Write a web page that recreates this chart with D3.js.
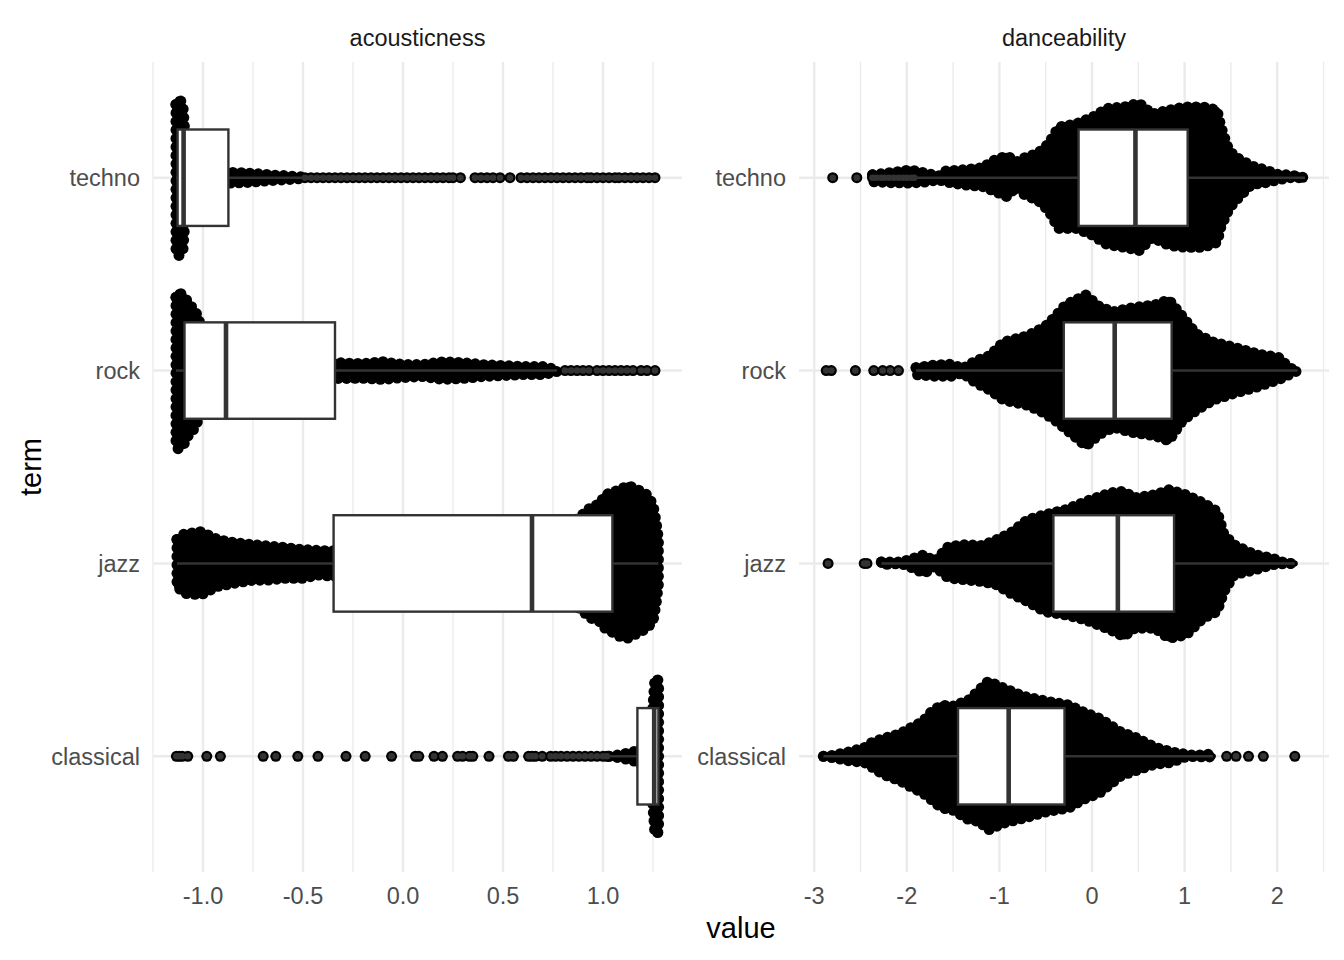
<!DOCTYPE html>
<html><head><meta charset="utf-8">
<script src="https://cdn.jsdelivr.net/npm/d3@7"></script>
<style>body{margin:0;background:#fff}svg{display:block}text{font-family:"Liberation Sans",Arial,Helvetica,sans-serif}</style>
</head><body><svg id="chart" width="1344" height="960"></svg>
<script>
// ---------- data ----------
const categories = ["techno", "rock", "jazz", "classical"];
const facets = ["acousticness", "danceability"];
const acTicks = [-1.0, -0.5, 0.0, 0.5, 1.0];
const acTickLabels = ["-1.0", "-0.5", "0.0", "0.5", "1.0"];
const acMinorTicks = [-1.25, -0.75, -0.25, 0.25, 0.75, 1.25];
const daTicks = [-3, -2, -1, 0, 1, 2];
const daTickLabels = ["-3", "-2", "-1", "0", "1", "2"];
const daMinorTicks = [-2.5, -1.5, -0.5, 0.5, 1.5, 2.5];

// boxplot statistics, order = categories
const acWhiskerLow = [-1.135, -1.135, -1.13, 1.03];
const acQ1 = [-1.127, -1.0925, -0.347, 1.172];
const acMedian = [-1.097, -0.885, 0.645, 1.256];
const acQ3 = [-0.873, -0.34, 1.047, 1.277];
const acWhiskerHigh = [-0.50, 0.77, 1.277, 1.282];
const daWhiskerLow = [-1.89, -1.90, -2.275, -2.90];
const daQ1 = [-0.145, -0.305, -0.417, -1.447];
const daMedian = [0.469, 0.245, 0.279, -0.90];
const daQ3 = [1.033, 0.86, 0.886, -0.297];
const daWhiskerHigh = [2.30, 2.22, 2.19, 1.305];

// beeswarm spread envelopes (value, spread above, spread below in category units)
const acTechnoX = [-1.135, -1.125, -1.112, -1.10, -1.09, -1.05, -0.95, -0.873, -0.80, -0.72, -0.65, -0.58, -0.50];
const acTechnoUp = [0.38, 0.405, 0.40, 0.37, 0.22, 0.10, 0.05, 0.028, 0.026, 0.020, 0.014, 0.010, 0.004];
const acTechnoLo = [0.38, 0.405, 0.40, 0.37, 0.22, 0.10, 0.05, 0.028, 0.026, 0.020, 0.014, 0.010, 0.004];
const acRockX = [-1.135, -1.125, -1.112, -1.10, -1.085, -1.07, -1.05, -1.035, -1.02, -1.0, -0.9, -0.6, -0.34, -0.2, -0.1, 0.0, 0.1, 0.2, 0.3, 0.4, 0.5, 0.6, 0.7, 0.77];
const acRockUp = [0.38, 0.405, 0.40, 0.39, 0.37, 0.35, 0.32, 0.30, 0.27, 0.10, 0.08, 0.05, 0.041, 0.036, 0.046, 0.031, 0.031, 0.046, 0.041, 0.031, 0.026, 0.021, 0.021, 0.005];
const acRockLo = [0.38, 0.405, 0.40, 0.39, 0.36, 0.33, 0.31, 0.28, 0.25, 0.10, 0.08, 0.05, 0.041, 0.040, 0.046, 0.036, 0.031, 0.046, 0.041, 0.031, 0.026, 0.021, 0.021, 0.005];
const acJazzX = [-1.13, -1.095, -1.011, -0.927, -0.843, -0.758, -0.673, -0.589, -0.505, -0.42, -0.352, -0.1, 0.3, 0.7, 0.85, 0.88, 0.94, 0.985, 1.01, 1.085, 1.125, 1.175, 1.22, 1.25, 1.265, 1.277];
const acJazzUp = [0.124, 0.152, 0.165, 0.124, 0.108, 0.098, 0.090, 0.083, 0.072, 0.067, 0.065, 0.09, 0.15, 0.20, 0.22, 0.237, 0.292, 0.31, 0.356, 0.382, 0.405, 0.382, 0.356, 0.305, 0.217, 0.13];
const acJazzLo = [0.119, 0.155, 0.163, 0.119, 0.103, 0.088, 0.086, 0.077, 0.077, 0.060, 0.067, 0.09, 0.15, 0.20, 0.22, 0.232, 0.284, 0.302, 0.336, 0.379, 0.387, 0.361, 0.336, 0.30, 0.212, 0.108];
const acClassicalX = [1.03, 1.085, 1.17, 1.20, 1.24, 1.258, 1.265, 1.272, 1.278];
const acClassicalUp = [0, 0.008, 0.028, 0.05, 0.12, 0.38, 0.405, 0.405, 0.38];
const acClassicalLo = [0, 0.008, 0.028, 0.05, 0.12, 0.38, 0.405, 0.405, 0.38];

const daTechnoX = [-2.37, -2.15, -1.96, -1.77, -1.66, -1.59, -1.40, -1.18, -1.07, -0.92, -0.81, -0.73, -0.58, -0.47, -0.36, -0.17, 0.01, 0.16, 0.35, 0.51, 0.65, 0.83, 1.01, 1.20, 1.35, 1.39, 1.46, 1.53, 1.72, 1.87, 2.02, 2.13, 2.30];
const daTechnoUp = [0.015, 0.028, 0.041, 0.021, 0.008, 0.034, 0.041, 0.052, 0.088, 0.114, 0.083, 0.103, 0.129, 0.176, 0.263, 0.279, 0.315, 0.359, 0.367, 0.387, 0.330, 0.351, 0.367, 0.367, 0.351, 0.268, 0.165, 0.114, 0.062, 0.041, 0.015, 0.015, 0];
const daTechnoLo = [0.021, 0.026, 0.028, 0.021, 0.010, 0.021, 0.036, 0.046, 0.067, 0.098, 0.046, 0.088, 0.119, 0.170, 0.263, 0.263, 0.299, 0.346, 0.361, 0.377, 0.310, 0.351, 0.361, 0.361, 0.336, 0.258, 0.181, 0.129, 0.036, 0.026, 0.010, 0, 0];
const daRockX = [-1.90, -1.70, -1.51, -1.40, -1.25, -1.105, -0.955, -0.695, -0.51, -0.40, -0.285, -0.065, 0.085, 0.235, 0.42, 0.68, 0.83, 0.98, 1.125, 1.31, 1.535, 1.795, 2.02, 2.13, 2.22];
const daRockUp = [0.015, 0.029, 0.033, 0.010, 0.052, 0.077, 0.148, 0.181, 0.227, 0.279, 0.341, 0.392, 0.330, 0.305, 0.325, 0.341, 0.367, 0.279, 0.191, 0.148, 0.121, 0.086, 0.067, 0.015, 0];
const daRockLo = [0.021, 0.029, 0.029, 0.012, 0.065, 0.100, 0.153, 0.180, 0.222, 0.258, 0.303, 0.391, 0.329, 0.294, 0.320, 0.338, 0.364, 0.258, 0.207, 0.153, 0.118, 0.083, 0.046, 0.021, 0];
const daJazzX = [-2.275, -2.07, -1.98, -1.81, -1.70, -1.55, -1.365, -1.18, -1.03, -0.88, -0.695, -0.51, -0.285, -0.065, 0.20, 0.345, 0.46, 0.68, 0.83, 1.015, 1.20, 1.35, 1.425, 1.535, 1.76, 1.945, 2.095, 2.19];
const daJazzUp = [0.007, 0.007, 0.019, 0.045, 0.010, 0.088, 0.097, 0.093, 0.123, 0.158, 0.227, 0.253, 0.279, 0.322, 0.366, 0.374, 0.340, 0.356, 0.382, 0.356, 0.314, 0.271, 0.150, 0.097, 0.045, 0.028, 0, 0];
const daJazzLo = [0.007, 0, 0.015, 0.051, 0.015, 0.076, 0.085, 0.094, 0.111, 0.155, 0.198, 0.250, 0.267, 0.293, 0.345, 0.379, 0.336, 0.336, 0.388, 0.371, 0.284, 0.250, 0.146, 0.059, 0.033, 0.007, 0, 0];
const daClassicalX = [-2.90, -2.815, -2.63, -2.46, -2.37, -2.26, -2.07, -1.94, -1.83, -1.735, -1.625, -1.51, -1.33, -1.215, -1.12, -0.955, -0.73, -0.47, -0.25, -0.10, 0.085, 0.31, 0.46, 0.68, 0.865, 0.98, 1.125, 1.24, 1.305];
const daClassicalUp = [0, 0.004, 0.022, 0.044, 0.074, 0.091, 0.118, 0.153, 0.179, 0.231, 0.266, 0.258, 0.293, 0.345, 0.389, 0.354, 0.310, 0.284, 0.266, 0.231, 0.196, 0.126, 0.100, 0.047, 0.022, 0.013, 0.004, 0.013, 0];
const daClassicalLo = [0, 0.006, 0.023, 0.032, 0.058, 0.093, 0.128, 0.163, 0.189, 0.225, 0.268, 0.277, 0.329, 0.338, 0.382, 0.347, 0.320, 0.285, 0.268, 0.225, 0.189, 0.102, 0.076, 0.041, 0.032, 0.006, 0, 0.006, 0];

// individual outlying points
const acTechnoOut = [-0.49, -0.46, -0.43, -0.40, -0.37, -0.34, -0.31, -0.28, -0.25, -0.22, -0.19, -0.16, -0.13, -0.10, -0.07, -0.04, -0.01, 0.02, 0.05, 0.08, 0.11, 0.14, 0.17, 0.20, 0.23, 0.25, 0.287, 0.36, 0.39, 0.42, 0.45, 0.485, 0.535, 0.59, 0.62, 0.65, 0.68, 0.71, 0.74, 0.77, 0.80, 0.83, 0.86, 0.89, 0.92, 0.94, 0.97, 1.00, 1.03, 1.06, 1.08, 1.11, 1.14, 1.17, 1.20, 1.23, 1.26];
const acRockOut = [0.81, 0.84, 0.87, 0.90, 0.93, 0.97, 1.00, 1.03, 1.06, 1.09, 1.12, 1.15, 1.19, 1.22, 1.26];
const acJazzOut = [];
const acClassicalOut = [-1.133, -1.118, -1.104, -1.076, -0.981, -0.913, -0.699, -0.636, -0.526, -0.425, -0.285, -0.189, -0.057, 0.062, 0.079, 0.155, 0.197, 0.273, 0.298, 0.332, 0.349, 0.43, 0.527, 0.552, 0.628, 0.645, 0.662, 0.696, 0.738, 0.763, 0.79, 0.82, 0.85, 0.88, 0.91, 0.94, 0.97, 1.00, 1.02];
const daTechnoOut = [-2.80, -2.54, -2.37, -2.33, -2.28, -2.24, -2.19, -2.14, -2.09, -2.04, -2.00, -1.95, -1.92];
const daRockOut = [-2.87, -2.815, -2.555, -2.357, -2.26, -2.18, -2.09];
const daJazzOut = [-2.85, -2.46, -2.43];
const daClassicalOut = [1.454, 1.555, 1.69, 1.85, 2.19];

// ---------- assemble ----------
function env(xs, up, lo) { return xs.map((v, i) => ({ v: v, up: up[i], lo: lo[i] })); }
const panels = [
  {
    title: facets[0], domain: [-1.25, 1.395], range: [153, 682],
    ticks: acTicks, labels: acTickLabels, minor: acMinorTicks,
    box: { wl: acWhiskerLow, q1: acQ1, med: acMedian, q3: acQ3, wh: acWhiskerHigh },
    env: [env(acTechnoX, acTechnoUp, acTechnoLo), env(acRockX, acRockUp, acRockLo), env(acJazzX, acJazzUp, acJazzLo), env(acClassicalX, acClassicalUp, acClassicalLo)],
    out: [acTechnoOut, acRockOut, acJazzOut, acClassicalOut]
  },
  {
    title: facets[1], domain: [-3.164, 2.559], range: [799, 1329],
    ticks: daTicks, labels: daTickLabels, minor: daMinorTicks,
    box: { wl: daWhiskerLow, q1: daQ1, med: daMedian, q3: daQ3, wh: daWhiskerHigh },
    env: [env(daTechnoX, daTechnoUp, daTechnoLo), env(daRockX, daRockUp, daRockLo), env(daJazzX, daJazzUp, daJazzLo), env(daClassicalX, daClassicalUp, daClassicalLo)],
    out: [daTechnoOut, daRockOut, daJazzOut, daClassicalOut]
  }
];

const svg = d3.select("#chart");
const panelTop = 62, panelBottom = 872;
const y = d3.scalePoint().domain(categories).range([panelTop, panelBottom]).padding(0.6);
const step = y.step();
const R = 5.5;      // beeswarm point radius
const GAP = 8.5;    // spacing of the point rim drawn along each swarm outline

panels.forEach(p => {
  const x = d3.scaleLinear().domain(p.domain).range(p.range);
  const g = svg.append("g");
  // grid
  g.selectAll(".minor").data(p.minor).join("line")
    .attr("x1", d => x(d)).attr("x2", d => x(d)).attr("y1", panelTop).attr("y2", panelBottom)
    .attr("stroke", "#EBEBEB").attr("stroke-width", 1.3);
  g.selectAll(".major").data(p.ticks).join("line")
    .attr("x1", d => x(d)).attr("x2", d => x(d)).attr("y1", panelTop).attr("y2", panelBottom)
    .attr("stroke", "#EBEBEB").attr("stroke-width", 2.4);
  g.selectAll(".hmajor").data(categories).join("line")
    .attr("x1", p.range[0]).attr("x2", p.range[1]).attr("y1", d => y(d)).attr("y2", d => y(d))
    .attr("stroke", "#EBEBEB").attr("stroke-width", 2.4);

  // beeswarm envelopes
  categories.forEach((c, i) => {
    const yc = y(c);
    const area = d3.area().x(d => x(d.v)).y0(d => yc + d.lo * step).y1(d => yc - d.up * step);
    const path = g.append("path").datum(p.env[i]).attr("d", area)
      .attr("fill", "#000").attr("stroke", "#000").attr("stroke-width", 2 * R - 5)
      .attr("stroke-linejoin", "round").attr("stroke-linecap", "round");
    // rim of points along the outline
    const node = path.node();
    const L = node.getTotalLength();
    const n = Math.max(1, Math.ceil(L / GAP));
    const rim = d3.range(n + 1).map(k => node.getPointAtLength(k * L / n));
    g.append("g").selectAll("circle").data(rim).join("circle")
      .attr("cx", d => d.x).attr("cy", d => d.y).attr("r", R).attr("fill", "#000");
    g.append("g").selectAll("circle").data(p.out[i]).join("circle")
      .attr("cx", d => x(d)).attr("cy", yc).attr("r", R).attr("fill", "#000");
  });

  // boxplots
  categories.forEach((c, i) => {
    const yc = y(c), hw = 0.25 * step, b = p.box;
    g.append("line").attr("x1", x(b.wl[i])).attr("x2", x(b.q1[i])).attr("y1", yc).attr("y2", yc)
      .attr("stroke", "#333333").attr("stroke-width", 2.4);
    g.append("line").attr("x1", x(b.q3[i])).attr("x2", x(b.wh[i])).attr("y1", yc).attr("y2", yc)
      .attr("stroke", "#333333").attr("stroke-width", 2.4);
    g.append("rect").attr("x", x(b.q1[i])).attr("width", x(b.q3[i]) - x(b.q1[i]))
      .attr("y", yc - hw).attr("height", 2 * hw)
      .attr("fill", "#fff").attr("stroke", "#333333").attr("stroke-width", 2.4);
    g.append("line").attr("x1", x(b.med[i])).attr("x2", x(b.med[i])).attr("y1", yc - hw).attr("y2", yc + hw)
      .attr("stroke", "#333333").attr("stroke-width", 4.6);
    g.append("g").selectAll("circle").data(p.out[i]).join("circle")
      .attr("cx", d => x(d)).attr("cy", yc).attr("r", 3.3).attr("fill", "#333333");
  });

  // axes text
  g.selectAll(".xt").data(p.ticks).join("text")
    .attr("x", d => x(d)).attr("y", 904).attr("text-anchor", "middle")
    .attr("font-size", 23.5).attr("fill", "#4D4D4D").text((d, i) => p.labels[i]);
  g.selectAll(".yt").data(categories).join("text")
    .attr("x", p.range[0] - 13).attr("y", d => y(d)).attr("dy", "0.36em").attr("text-anchor", "end")
    .attr("font-size", 23.5).attr("fill", "#4D4D4D").text(d => d);
  g.append("text").attr("x", (p.range[0] + p.range[1]) / 2).attr("y", 46).attr("text-anchor", "middle")
    .attr("font-size", 23.5).attr("fill", "#1A1A1A").text(p.title);
});

svg.append("text").attr("x", 741).attr("y", 938).attr("text-anchor", "middle")
  .attr("font-size", 29).attr("fill", "#000").text("value");
svg.append("text").attr("transform", "translate(41,467) rotate(-90)").attr("text-anchor", "middle")
  .attr("font-size", 29).attr("fill", "#000").text("term");
</script></body></html>
